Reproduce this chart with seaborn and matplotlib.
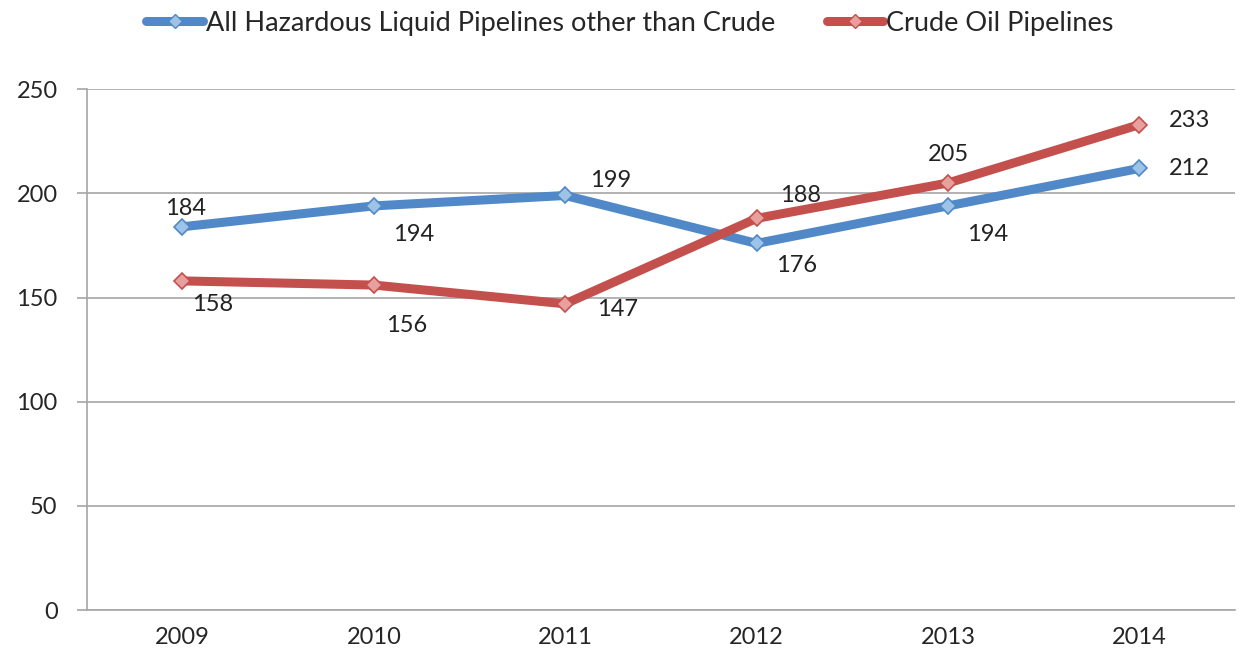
import pandas as pd
import seaborn as sns
import matplotlib.pyplot as plt

years = ['2009', '2010', '2011', '2012', '2013', '2014']
other_than_crude = [184, 194, 199, 176, 194, 212]
crude_oil = [158, 156, 147, 188, 205, 233]
series_names = ['All Hazardous Liquid Pipelines other than Crude', 'Crude Oil Pipelines']

df = pd.DataFrame({
    'year': years * 2,
    'value': other_than_crude + crude_oil,
    'series': [series_names[0]] * 6 + [series_names[1]] * 6,
})

sns.set_style('white')
plt.rcParams['font.family'] = ['Lato', 'DejaVu Sans']

fig = plt.figure(figsize=(12.4, 6.66), dpi=100)
ax = fig.add_axes([0.070, 0.084, 0.926, 0.782])

palette = {series_names[0]: '#5088C8', series_names[1]: '#C4504D'}
sns.lineplot(data=df, x='year', y='value', hue='series', palette=palette, ax=ax,
             linewidth=6.5, marker='D', markersize=8, markeredgewidth=1.2,
             sort=False, legend=False)
# lighter diamonds like the excel style
for line, c in zip(ax.lines, ['#9DC3E6', '#E8A09E']):
    line.set_markerfacecolor(c)
    line.set_markeredgecolor(line.get_color())

ax.set_xlim(-0.5, 5.5)
ax.set_ylim(0, 250)
ax.set_yticks(range(0, 251, 50))
ax.yaxis.grid(True, color='#A6A6A6', linewidth=1.2)
ax.set_axisbelow(True)
ax.set_xlabel('')
ax.set_ylabel('')
for s in ['top', 'right']:
    ax.spines[s].set_visible(False)
for s in ['left', 'bottom']:
    ax.spines[s].set_color('#A6A6A6')
    ax.spines[s].set_linewidth(1.2)

# ticks between categories
ax.set_xticks(range(6))
ax.set_xticklabels(years)
ax.tick_params(axis='x', length=0, pad=12, labelsize=17)
ax.tick_params(axis='y', length=0, pad=14, labelsize=17)
ax.set_xticks([i - 0.5 for i in range(7)], minor=True)
ax.tick_params(axis='x', which='minor', length=7, color='#A6A6A6', width=1.2)
ax.tick_params(axis='y', which='both', left=True, length=7, color='#A6A6A6', width=1.2)

blue_off = [(3, 18), (40, -29), (45, 15), (40, -22), (40, -29), (50, 0)]
red_off = [(30, -24), (33, -40), (52, -6), (44, 23), (0, 28), (50, 4)]
for i, (a, b) in enumerate(zip(other_than_crude, crude_oil)):
    ax.annotate(str(a), (i, a), xytext=blue_off[i], textcoords='offset pixels',
                ha='center', va='center', fontsize=17, color='#222222')
    ax.annotate(str(b), (i, b), xytext=red_off[i], textcoords='offset pixels',
                ha='center', va='center', fontsize=17, color='#222222')

handles = [plt.Line2D([], [], color=palette[n], lw=6.5, marker='D', markersize=7,
                      markerfacecolor=c, markeredgecolor=palette[n])
           for n, c in zip(series_names, ['#9DC3E6', '#E8A09E'])]
fig.legend(handles, series_names, loc='center', bbox_to_anchor=(0.508, 0.965),
           ncol=2, frameon=False, fontsize=19.5, handlelength=2.1, handletextpad=0.1,
           columnspacing=1.9)

fig.savefig('out.png', dpi=100)
